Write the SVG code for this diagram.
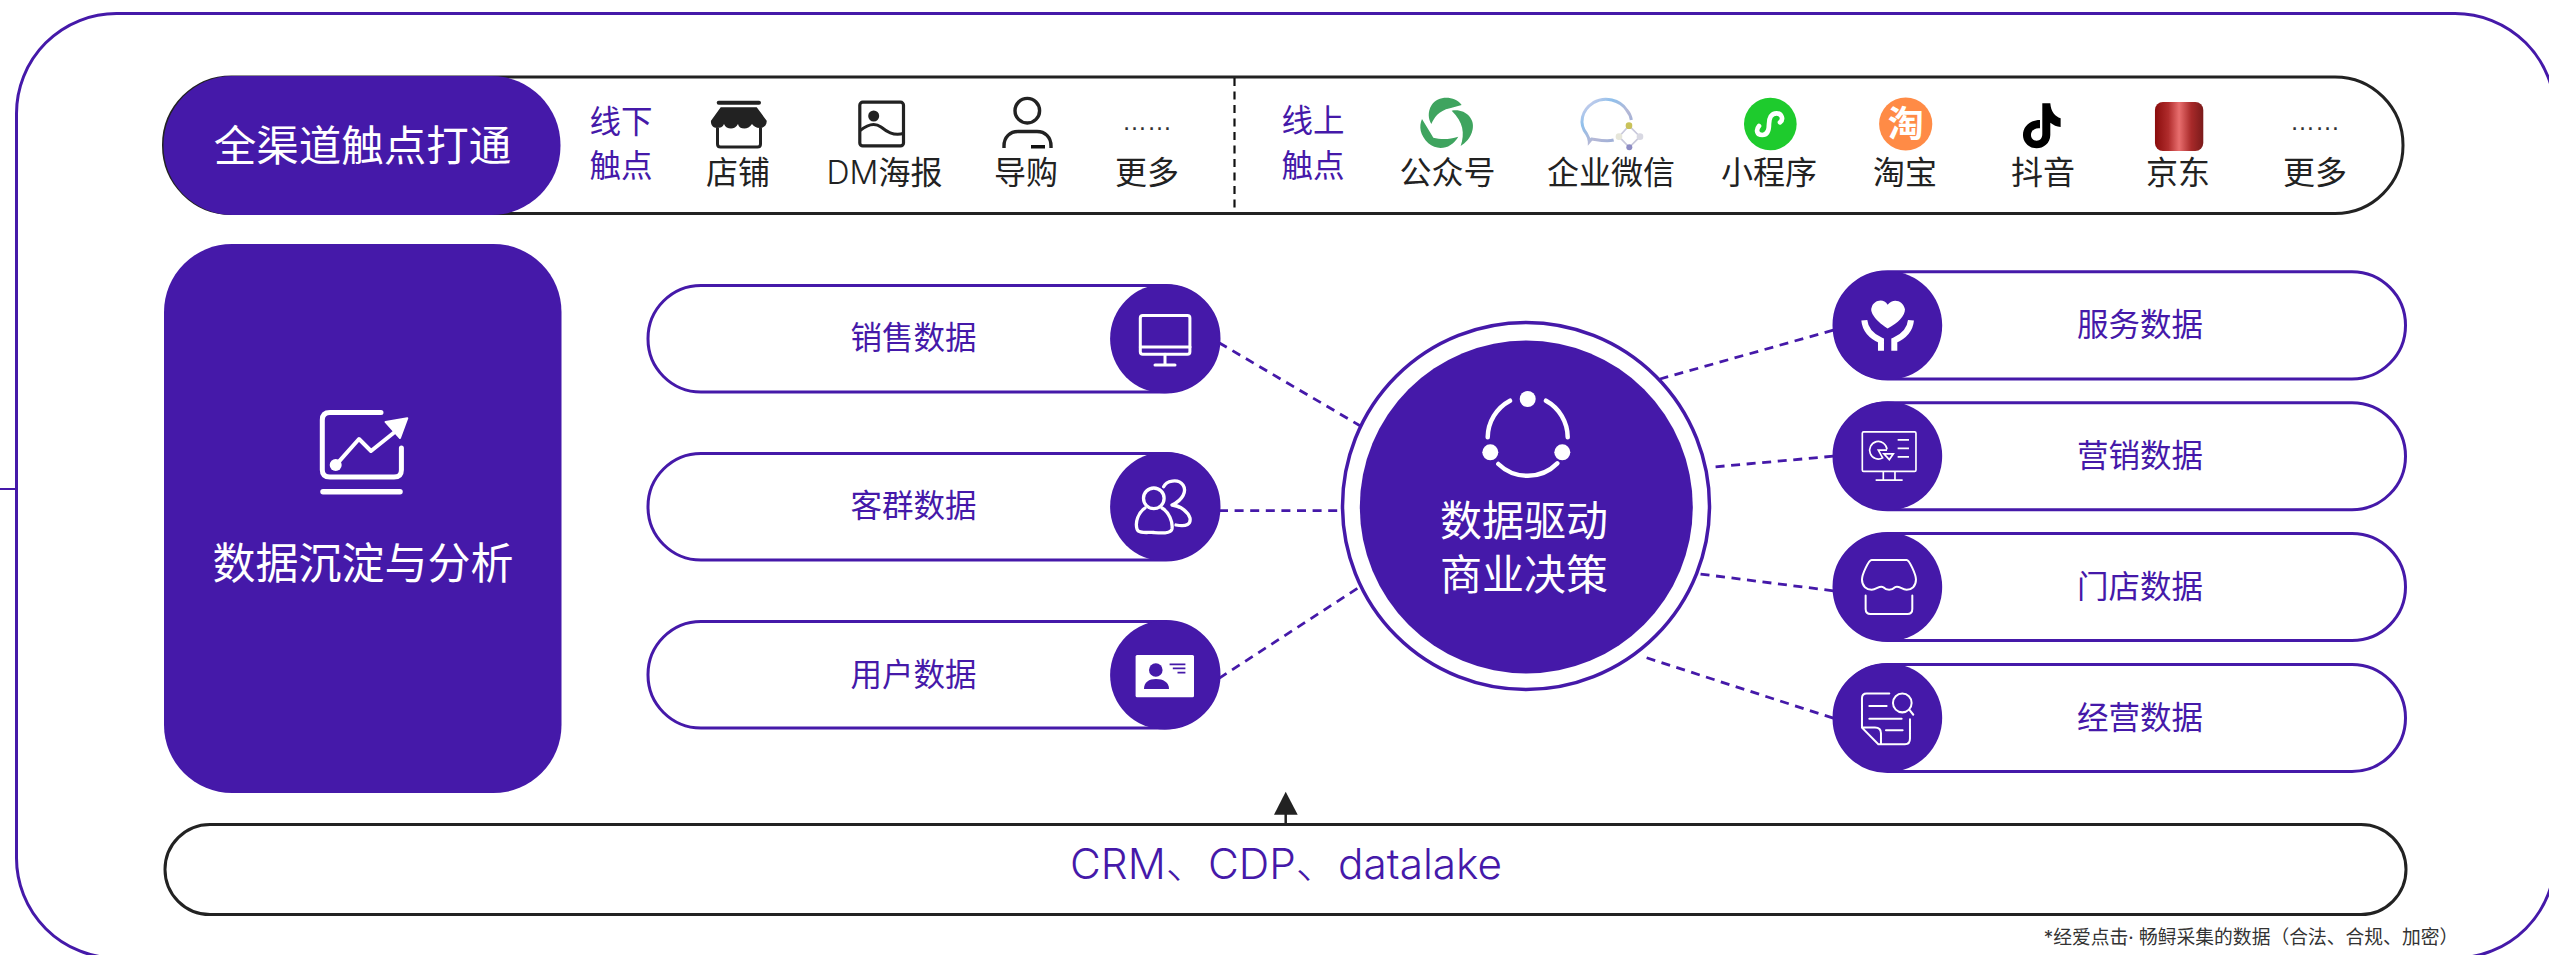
<svg xmlns="http://www.w3.org/2000/svg" width="2549" height="955" viewBox="0 0 2549 955">
<style>
text{font-family:"Noto Sans CJK SC","Noto Sans CJK TC",sans-serif;text-anchor:middle}
.p{fill:#4519a9}
.lp{fill:#fff;stroke:#4519a9;stroke-width:3}
.lk{fill:#fff;stroke:#222;stroke-width:3}
.tp{fill:#4519a9;font-size:31.5px}
.tk{fill:#222;font-size:32px;font-family:Inter,"Noto Sans CJK SC",sans-serif}
.tw{fill:#fff;font-size:42px}
.dots{fill:#333;font-size:25px;font-family:"Liberation Sans",sans-serif}
.w{fill:none;stroke:#fff;stroke-linecap:round;stroke-linejoin:round}
.dash{fill:none;stroke:#4519a9;stroke-width:2.8;stroke-dasharray:9 6.6}
</style>
<defs>
<linearGradient id="jd" x1="0" x2="1" y1="0" y2="0"><stop offset="0" stop-color="#8a0c0c"/><stop offset=".28" stop-color="#b02c2c"/><stop offset=".5" stop-color="#e86e6e"/><stop offset=".75" stop-color="#a82a2a"/><stop offset="1" stop-color="#7a1a1a"/></linearGradient>
<linearGradient id="wc" x1="0" x2="1" y1="0" y2="1"><stop offset="0" stop-color="#e3d3ea"/><stop offset=".3" stop-color="#8fc0ec"/><stop offset=".6" stop-color="#b5b8d6"/><stop offset="1" stop-color="#8aa8d8"/></linearGradient>
</defs>
<g id="frame">
<rect x="16.5" y="13.5" width="2538.5" height="944.5" rx="100" fill="#fff" stroke="#4519a9" stroke-width="3"/>
<line x1="0" y1="489" x2="16" y2="489" stroke="#4519a9" stroke-width="2"/>
</g>
<g id="connectors">
<path class="dash" d="M1219 342.7L1360 425.7"/>
<path class="dash" d="M1219 510.7H1341"/>
<path class="dash" d="M1219 678.3L1360 586.7"/>
<path class="dash" d="M1833.3 330.1L1660 379"/>
<path class="dash" d="M1833.3 456.2L1713.3 467"/>
<path class="dash" d="M1833.3 590.8L1699.3 573.9"/>
<path class="dash" d="M1833.3 718.2L1643.3 656.7"/>
<line x1="1285.7" y1="812" x2="1285.7" y2="824" stroke="#222" stroke-width="2.5"/>
<path d="M1285.7 791.7L1297.7 814.7H1274Z" fill="#222"/>
</g>
<g id="touchpoints">
<rect class="lk" x="163.5" y="77" width="2239.5" height="136.5" rx="68"/>
<rect class="p" x="163.5" y="76" width="397" height="139" rx="69"/>
<text class="tw" x="362.500" y="160.500" style="font-size:42.500px">全渠道触点打通</text>
<line x1="1234.5" y1="78" x2="1234.5" y2="213" stroke="#111" stroke-width="2.200" stroke-dasharray="8 5.5"/>
<text class="tp" x="621" y="133">线下</text><text class="tp" x="621" y="177">触点</text>
<text class="tp" x="1313" y="132">线上</text><text class="tp" x="1313" y="177">触点</text>
</g>
<g id="node-store">
<rect x="716.7" y="100.7" width="44.3" height="4" rx="2" fill="#222"/>
<path d="M720.7 107.3H756.7L766.7 120.7C767 125 764 128 760 128C756 128 753.500 126 752 124C750 127 747 128.500 744.500 128.500C741 128.500 738.500 127 738 124C736.500 127 733.500 128.500 731 128.500C728 128.500 725 127 724 124C723 127 720 128 717 128C713 128 710.500 125 711 120.7Z" fill="#222"/>
<path d="M717.500 128V144C717.500 146 718.500 147 720.500 147H757.500C759.500 147 760.500 146 760.500 144V128" fill="none" stroke="#222" stroke-width="3"/>
<text class="tk" x="738" y="184">店铺</text>
</g>
<g id="node-dm">
<rect x="859.800" y="102.200" width="43.700" height="43.700" rx="3" fill="none" stroke="#222" stroke-width="3.200"/>
<circle cx="873.700" cy="116" r="5.500" fill="#222"/>
<path d="M860 130.700C868 124 875 122.500 881 127C886 131 893 136.500 904 133.300" fill="none" stroke="#222" stroke-width="3"/>
<text class="tk" x="884.500" y="184"><tspan font-weight="300">DM</tspan>海报</text>
</g>
<g id="node-guide">
<circle cx="1027.300" cy="110.700" r="12.300" fill="none" stroke="#222" stroke-width="3.400"/>
<path d="M1004 148V146C1004 137 1010 131.500 1018 131.500H1037C1045 131.500 1051 137 1051 146V148" fill="none" stroke="#222" stroke-width="3.400"/>
<rect x="1031" y="145" width="14" height="3.500" fill="#111"/>
<text class="tk" x="1026" y="184">导购</text>
</g>
<g id="node-more-off">
<text class="dots" x="1147" y="130">……</text>
<text class="tk" x="1147" y="184">更多</text>
</g>
<g id="node-wechat">
<g transform="translate(1410 90) scale(.3333)" fill="#3fa45f">
<path d="M155 45C135 18 85 15 65 45C52 65 55 88 64 102C72 85 85 62 120 55Z"/>
<path d="M125 62C165 55 195 85 188 118C183 145 165 160 152 168C165 130 160 95 125 62Z"/>
<path d="M36 87C26 110 30 135 55 160C85 185 125 175 145 140C115 150 90 148 70 143L62 130Z"/>
</g>
<text class="tk" x="1447.500" y="184">公众号</text>
</g>
<g id="node-wecom">
<g transform="translate(1410 90) scale(.3333)">
<path d="M611 150C590 156 565 150 545 147L538 155C538 148 535 140 530 132C505 100 515 60 550 38C585 18 630 30 650 60C660 72 663 82 664 90" fill="none" stroke="url(#wc)" stroke-width="9"/>
<path d="M657 107L690 140L658 172L627 140Z" fill="none" stroke="#c9c9dc" stroke-width="5"/>
<circle cx="657" cy="107" r="10" fill="#c9c25a"/><circle cx="627" cy="140" r="10" fill="#e6e6da"/><circle cx="690" cy="140" r="10" fill="#d8d8e2"/><circle cx="658" cy="172" r="9" fill="#8d8cc4"/>
</g>
<text class="tk" x="1611" y="184">企业微信</text>
</g>
<g id="node-mini">
<g transform="translate(1735 90) scale(.3333)">
<circle cx="106" cy="102" r="79" fill="#1ecb2d"/>
<path d="M72 108C62 120 65 135 82 135C98 135 102 122 102 102C102 85 108 70 125 70C140 70 147 88 135 97" fill="none" stroke="#fff" stroke-width="14" stroke-linecap="round"/>
</g>
<text class="tk" x="1769" y="184">小程序</text>
</g>
<g id="node-taobao">
<circle cx="1905.700" cy="124" r="26.600" fill="#ff8b46"/>
<text x="1905.700" y="137" fill="#fff" font-size="36" font-weight="700">淘</text>
<text class="tk" x="1905" y="184">淘宝</text>
</g>
<g id="node-douyin">
<g transform="translate(1735 90) scale(.3333)">
<path d="M922 40H946C948 65 960 80 977 85V111C965 110 955 105 946 98V135C946 160 925 175 905 175C880 175 864 155 864 135C864 110 885 90 915 90V115C900 112 888 122 888 135C888 147 897 152 905 152C915 152 922 145 922 132Z" fill="#000"/>
</g>
<text class="tk" x="2043" y="184">抖音</text>
</g>
<g id="node-jd">
<g transform="translate(1735 90) scale(.3333)">
<rect x="1260" y="36" width="145" height="147" rx="24" fill="url(#jd)"/>
</g>
<text class="tk" x="2178" y="184">京东</text>
</g>
<g id="node-more-on">
<text class="dots" x="2315" y="130">……</text>
<text class="tk" x="2315" y="184">更多</text>
</g>
<g id="node-analysis">
<rect class="p" x="164" y="244" width="397.500" height="549" rx="68"/>
<path class="w" stroke-width="5" d="M381 412.600H330C325 412.600 322.300 415 322.300 420V470C322.300 475 325 477 330 477H394C399 477 401.400 475 401.400 470V448"/>
<path class="w" stroke-width="5.500" d="M323 491.700H400"/>
<path class="w" stroke-width="4" d="M336 464.900L359 439L371 451L396 431"/>
<circle cx="335.700" cy="464.900" r="6" fill="#fff"/>
<path d="M385.500 421.900L407.300 418.200L400 438Z" fill="#fff" stroke="#fff" stroke-width="2" stroke-linejoin="round"/>
<text x="363" y="579" fill="#fff" font-size="43">数据沉淀与分析</text>
</g>
<g id="node-sales">
<rect class="lp" x="648" y="285.500" width="571" height="106.500" rx="53"/>
<circle class="p" cx="1164.600" cy="338.700" r="54.500"/>
<rect x="1140.300" y="315.500" width="49.600" height="38.700" rx="2.500" fill="none" stroke="#fff" stroke-width="3"/>
<path class="w" stroke-width="3" d="M1140.300 347H1190M1165 354.200V365M1155 365H1175"/>
<text class="tp" x="913.500" y="349">销售数据</text>
</g>
<g id="node-group">
<rect class="lp" x="648" y="453.500" width="571" height="106.500" rx="53"/>
<circle class="p" cx="1164.600" cy="506.600" r="54.500"/>
<circle class="w" cx="1153.800" cy="498.300" r="10.300" stroke-width="3.300"/>
<path class="w" stroke-width="3.300" d="M1145 508C1138 513 1135 522 1137 529C1138 534 1148 532 1154 532.500C1160 533 1171 534 1172 529C1173 522 1169 512 1162 508"/>
<path class="w" stroke-width="3.300" d="M1163.700 486.700C1166 481 1178 478 1183 485C1187 491 1183 500 1172 505C1181 506 1188 512 1190 518C1191 524 1187 527 1176 525"/>
<text class="tp" x="913.500" y="517">客群数据</text>
</g>
<g id="node-user">
<rect class="lp" x="648" y="621.500" width="571" height="106.500" rx="53"/>
<circle class="p" cx="1164.600" cy="675" r="54.500"/>
<rect x="1135.600" y="655" width="58.400" height="42.300" rx="1.500" fill="#fff"/>
<circle class="p" cx="1155.800" cy="670" r="6.800"/>
<path class="p" d="M1144 689C1144 682 1149 679 1156 679C1163 679 1169 682 1169 689Z"/>
<path d="M1169.600 664.300H1185.400M1172.800 668.300H1185.400M1177.500 672.700H1185.400" stroke="#4519a9" stroke-width="1.800"/>
<text class="tp" x="913.500" y="686">用户数据</text>
</g>
<g id="node-decision">
<circle cx="1526" cy="506" r="183.500" fill="#fff" stroke="#4519a9" stroke-width="3.500"/>
<circle class="p" cx="1526.300" cy="507" r="166.500"/>
<circle cx="1527.700" cy="399" r="8" fill="#fff"/><circle cx="1490.300" cy="452.300" r="8" fill="#fff"/><circle cx="1562.300" cy="452.300" r="8" fill="#fff"/>
<path class="w" stroke-width="4.500" d="M1510 400.700A42 42 0 0 0 1487.700 437.300M1546 400.700A42 42 0 0 1 1567.700 437.300M1498.300 464A42 42 0 0 0 1557.300 463.300"/>
<text class="tw" x="1524" y="536">数据驱动</text>
<text class="tw" x="1524" y="590">商业决策</text>
</g>
<g id="node-service">
<rect class="lp" x="1834" y="271.700" width="571.500" height="107.300" rx="53.600"/>
<circle class="p" cx="1887.700" cy="325.500" r="54.500"/>
<g transform="translate(1600 250) scale(.3333 .338)">
<path d="M863 232C820 205 810 180 815 170C820 150 850 140 863 162C880 140 910 150 915 175C915 195 895 215 863 232Z" fill="#fff"/>
<path d="M793 208C796 240 820 258 843 268V298M933 208C930 240 906 258 883 268V298" fill="none" stroke="#fff" stroke-width="18"/>
</g>
<text class="tp" x="2140" y="335.500">服务数据</text>
</g>
<g id="node-marketing">
<rect class="lp" x="1834" y="402.700" width="571.500" height="107" rx="53.500"/>
<circle class="p" cx="1887.700" cy="456" r="54.500"/>
<g transform="translate(1600 250) scale(.3333 .338)" fill="none" stroke="#fff" stroke-width="5">
<rect x="787" y="538" width="161" height="117" rx="4"/>
<path d="M861 590A26 26 0 1 0 848 615L835 592H861M852 603H880L868 620ZM893 562H927M893 587H927M893 612H927M850 655V680M885 655V680M827 681H908"/>
</g>
<text class="tp" x="2140" y="466.500">营销数据</text>
</g>
<g id="node-store-data">
<rect class="lp" x="1834" y="533.500" width="571.500" height="107" rx="53.500"/>
<circle class="p" cx="1887.700" cy="587" r="54.500"/>
<g transform="translate(1600 250) scale(.3333 .338)" fill="none" stroke="#fff" stroke-width="6" stroke-linecap="round">
<path d="M815 917H920C928 917 948 960 948 975C948 995 935 1005 920 1005C905 1005 895 990 885 998C875 1008 860 1008 850 998C840 990 830 1005 815 1005C800 1005 786 995 786 975C786 960 806 917 815 917Z"/>
<path d="M797 1022V1062C797 1072 803 1077 812 1077H922C932 1077 937 1072 937 1062V1022"/>
</g>
<text class="tp" x="2140" y="597.500">门店数据</text>
</g>
<g id="node-operation">
<rect class="lp" x="1834" y="664.500" width="571.500" height="107" rx="53.500"/>
<circle class="p" cx="1887.700" cy="717.700" r="54.500"/>
<g transform="translate(1600 250) scale(.3333 .338)" fill="none" stroke="#fff" stroke-width="6" stroke-linecap="round">
<path d="M868 1312H800C790 1312 786 1318 786 1326V1413L835 1462H915C925 1462 930 1455 930 1445V1388M786 1413H825C838 1413 843 1420 843 1430V1462M808 1349H860M808 1387H905M858 1421H908M928 1360L940 1375"/>
<circle cx="907" cy="1340" r="28"/>
</g>
<text class="tp" x="2140" y="729">经营数据</text>
</g>
<g id="node-crm">
<rect class="lk" x="165" y="824.500" width="2241" height="90" rx="45"/>
<text x="1286" y="879" fill="#4519a9" font-size="42.300" font-weight="300" style="font-family:Inter,'Noto Sans CJK SC',sans-serif">CRM、CDP、datalake</text>
</g>
<g id="footnote">
<text x="2251" y="944" fill="#333" font-size="18.800" style="font-family:Inter,'Noto Sans CJK SC',sans-serif">*经爱点击· 畅鲟采集的数据（合法、合规、加密）</text>
</g>
</svg>
